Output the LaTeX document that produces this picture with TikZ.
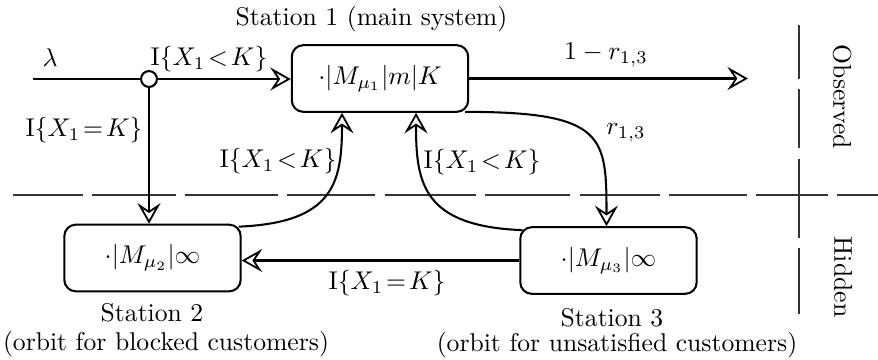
\documentclass[tikz,border=0pt]{standalone}
\usetikzlibrary{arrows.meta}
\usepackage{amsmath}

\tikzset{
  station/.style={draw, line width=0.8pt, rounded corners=4.5pt, minimum width=68.8pt, minimum height=26pt, inner sep=0pt},
  flow/.style={line width=0.8pt, -{Stealth[open, length=8pt, width=9pt, inset=3pt, line width=0.7pt]}},
  divider/.style={line width=0.4pt, black!80},
}

\begin{document}
\begin{tikzpicture}[x=0.39pt, y=-0.39pt]
\useasboundingbox (0,0) rectangle (878,359);

%%% Observed / hidden dividers
\foreach \a/\b in {13/83, 92/176, 185/278, 287/375, 385/476, 485/570, 580/660, 669/747, 756/828, 837/878}
  \draw[divider] (\a,195) -- (\b,195);
\foreach \a/\b in {25/79, 89/148, 159/238, 248/314}
  \draw[divider] (799,\a) -- (799,\b);
\node[rotate=-90] (observed) at (842,97) {Observed};
\node[rotate=-90] (hidden) at (843,277) {Hidden};

%%% Stations
\node[station] (s1) at (380,78.5) {$\cdot|M_{\mu_1}|m|K$};
\node[station] (s2) at (152.5,258) {$\cdot|M_{\mu_2}|\infty$};
\node[station] (s3) at (608.5,260.5) {$\cdot|M_{\mu_3}|\infty$};

\node[anchor=base] (s1name) at (371.5,25) {Station 1 (main system)};
\node[anchor=base] (s2name) at (152,321) {Station 2};
\node[anchor=base] (s2note) at (166,350) {(orbit for blocked customers)};
\node[anchor=base] (s3name) at (612,326) {Station 3};
\node[anchor=base] (s3note) at (617,351) {(orbit for unsatisfied customers)};

%%% Arrivals and splitting point
\coordinate (in) at (33,79);
\coordinate (out) at (748,78.5);
\node[draw, circle, line width=0.8pt, fill=white, minimum size=6.2pt, inner sep=0pt] (split) at (149,79) {};

\draw[line width=0.8pt] (in) -- (split);
\draw[flow] (split.east) -- (s1.west |- split);
\draw[flow] (split.south) -- (split |- s2.north);
\draw[flow] (s1.east |- out) -- (out);

%%% Flows between stations
\draw[flow] ([shift={(-4,-1)}]s1.south east) .. controls +(140,0) and +(0,-90) .. ([shift={(-2,0)}]s3.north);
\draw[flow] ([shift={(-3,3)}]s2.north east) .. controls +(95,-4) and +(0,70) .. ([shift={(-38,0)}]s1.south);
\draw[flow] ([shift={(3,4)}]s3.north west) .. controls +(-100,-4) and +(0,70) .. ([shift={(36,0)}]s1.south);
\draw[flow] (s3.west) -- (s3.west -| s2.east);

%%% Labels
\node (lam) at (50,58) {$\lambda$};
\node (accept) at (209,59) {$\mathrm{I}\{X_1\!<\!K\}$};
\node (block) at (84,130) {$\mathrm{I}\{X_1\!=\!K\}$};
\node (retry2) at (278,161) {$\mathrm{I}\{X_1\!<\!K\}$};
\node (retry3) at (482,162) {$\mathrm{I}\{X_1\!<\!K\}$};
\node (leave) at (606,55) {$1-r_{1,3}$};
\node (unsat) at (626,133) {$r_{1,3}$};
\node (move) at (387,283) {$\mathrm{I}\{X_1\!=\!K\}$};
\end{tikzpicture}
\end{document}
